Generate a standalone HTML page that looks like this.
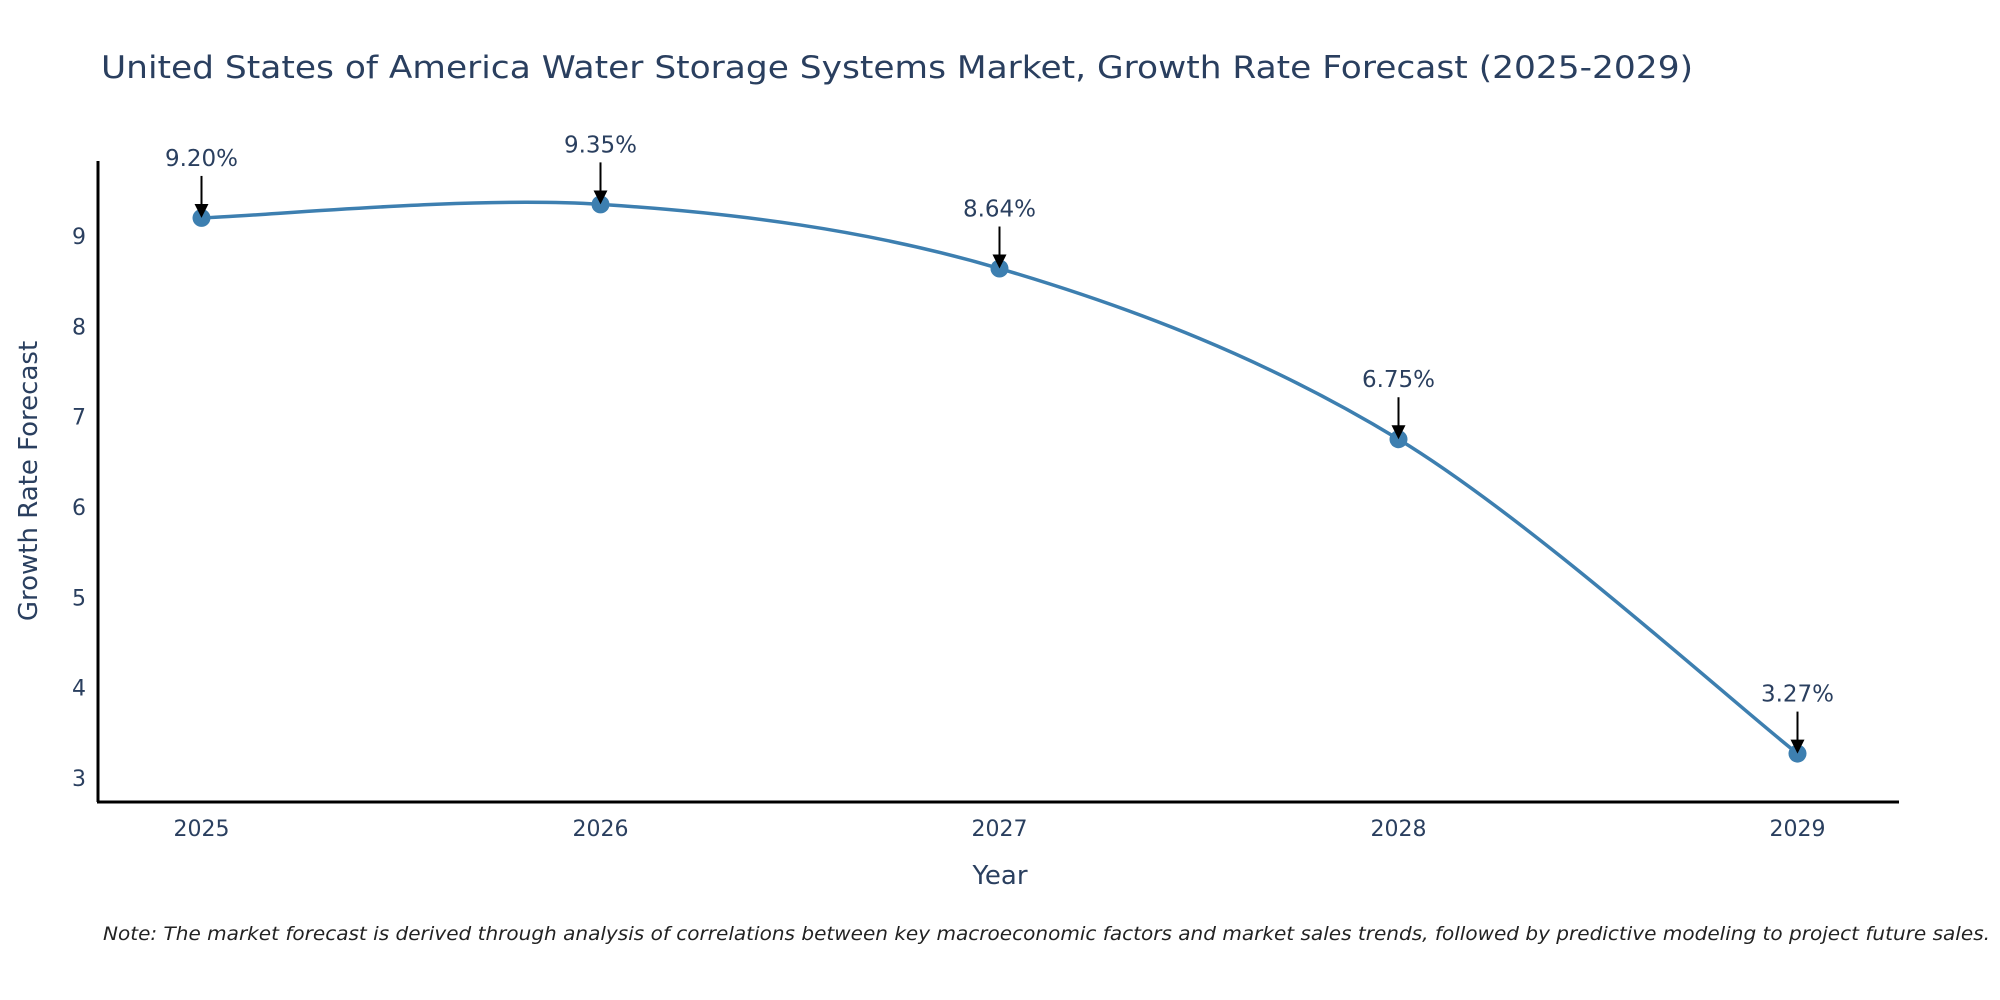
<!DOCTYPE html>
<html><head><meta charset="utf-8"><style>
body{margin:0;background:#fff;}
svg{display:block;font-family:"DejaVu Sans","Liberation Sans",sans-serif;}
</style></head><body>
<svg id="chart" width="2000" height="1000" viewBox="0 0 2000 1000">
<text x="101" y="78" font-size="31" fill="#2a3f5f" textLength="1592" lengthAdjust="spacingAndGlyphs">United States of America Water Storage Systems Market, Growth Rate Forecast (2025-2029)</text>
<g id="yticks"></g>
<g id="xticks"></g>
<line x1="98" y1="161" x2="98" y2="802" stroke="#000" stroke-width="3"/>
<line x1="97" y1="802" x2="1899" y2="802" stroke="#000" stroke-width="3"/>
<text transform="translate(37,481) rotate(-90)" text-anchor="middle" font-size="26" fill="#2a3f5f">Growth Rate Forecast</text>
<text x="1000" y="884" text-anchor="middle" font-size="26" fill="#2a3f5f">Year</text>
<defs><marker id="arr" markerWidth="16" markerHeight="16" refX="10" refY="7" orient="auto" markerUnits="userSpaceOnUse" viewBox="0 0 16 14"><path d="M0,0 L14,7 L0,14 z" fill="#000"/></marker></defs>
<g id="series"></g>
<text x="103" y="940" font-size="19" font-style="italic" fill="#222" textLength="1887" lengthAdjust="spacingAndGlyphs">Note: The market forecast is derived through analysis of correlations between key macroeconomic factors and market sales trends, followed by predictive modeling to project future sales.</text>
</svg>
<script>
const years = ["2025","2026","2027","2028","2029"];
const values = [9.20, 9.35, 8.64, 6.75, 3.27];
const valueLabels = ["9.20%","9.35%","8.64%","6.75%","3.27%"];
const yTickValues = [3,4,5,6,7,8,9];

const NS="http://www.w3.org/2000/svg";
const x0=201.5, dx=399, yRef=236, ppu=90.33;
const xs=i=>x0+i*dx;
const ys=v=>yRef+(9-v)*ppu;
function mk(tag,attrs,parent){const e=document.createElementNS(NS,tag);for(const k in attrs)e.setAttribute(k,attrs[k]);parent.appendChild(e);return e;}
const yt=document.getElementById('yticks');
yTickValues.forEach(v=>{
  const t=mk('text',{x:86,y:ys(v)+8,'text-anchor':'end','font-size':22,fill:'#2a3f5f'},yt);
  
  
  t.textContent=v;
});
const xt=document.getElementById('xticks');
years.forEach((y,i)=>{
  const t=mk('text',{x:xs(i),y:836,'text-anchor':'middle','font-size':22,fill:'#2a3f5f'},xt);
  
  
  t.textContent=y;
});
const g=document.getElementById('series');
const P=values.map((v,i)=>[xs(i),ys(v)]);
let d=`M${P[0][0]},${P[0][1]}`;
const s=1/6;
for(let i=0;i<P.length-1;i++){
  const p0=P[Math.max(i-1,0)],p1=P[i],p2=P[i+1],p3=P[Math.min(i+2,P.length-1)];
  const c1=[p1[0]+(p2[0]-p0[0])*s,p1[1]+(p2[1]-p0[1])*s];
  const c2=[p2[0]-(p3[0]-p1[0])*s,p2[1]-(p3[1]-p1[1])*s];
  d+=` C${c1[0]},${c1[1]} ${c2[0]},${c2[1]} ${p2[0]},${p2[1]}`;
}
const line=mk('path',{d:d,fill:'none',stroke:'#3d7fb0','stroke-width':3.5},g);


P.forEach((p,i)=>{
  const c=mk('circle',{cx:p[0],cy:p[1],r:9,fill:'#3d7fb0'},g);
  
  
  const a=mk('line',{x1:p[0],y1:p[1]-42,x2:p[0],y2:p[1]-4,stroke:'#000','stroke-width':2,'marker-end':'url(#arr)'},g);
  
  
  const t=mk('text',{x:p[0],y:p[1]-52,'text-anchor':'middle','font-size':23,fill:'#2a3f5f'},g);
  
  
  t.textContent=valueLabels[i];
});
</script>
</body></html>
